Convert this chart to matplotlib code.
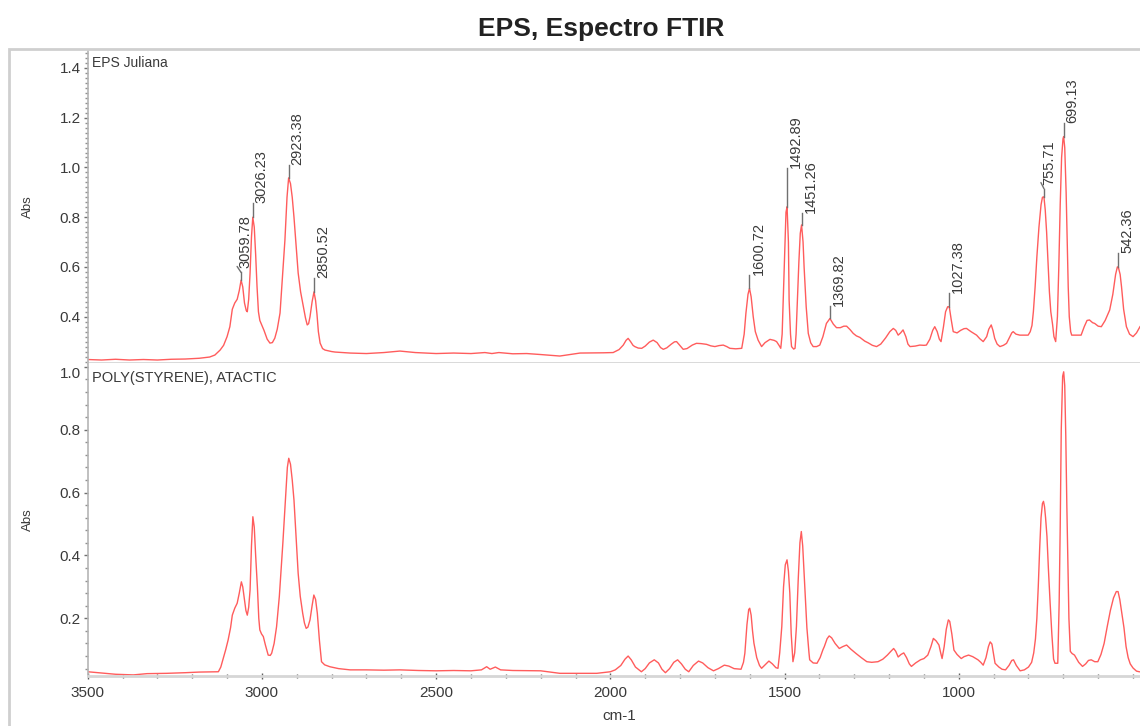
import matplotlib
matplotlib.use('Agg')

import matplotlib.pyplot as plt
from matplotlib.patches import Rectangle
from matplotlib.ticker import MultipleLocator
import matplotlib.transforms as mtransforms

plt.rcParams['font.family'] = ['Liberation Sans', 'DejaVu Sans']

# EPS Juliana sample (top panel): wavenumber (cm-1) and absorbance
top_wn = [3500, 3460, 3420, 3380, 3340, 3300, 3260, 3220, 3180, 3150, 3135, 3120, 3110,
          3100, 3092, 3085, 3078, 3071, 3065, 3059.78, 3055, 3050, 3045, 3042, 3038, 3034,
          3030, 3026.23, 3022, 3018, 3014, 3010, 3006, 3000, 2994, 2985, 2977, 2970, 2963,
          2956, 2948, 2941, 2934, 2928, 2923.38, 2918, 2913, 2908, 2902, 2896, 2889, 2881,
          2875, 2870, 2866, 2862, 2856, 2850.52, 2846, 2842, 2838, 2833, 2826, 2819, 2800,
          2790, 2747, 2700, 2650, 2604, 2560, 2500, 2450, 2400, 2360, 2340, 2320, 2280,
          2240, 2200, 2145, 2087, 2020, 1992, 1975, 1963, 1955, 1949, 1942, 1935, 1930,
          1920, 1910, 1900, 1888, 1877, 1866, 1856, 1848, 1838, 1825, 1816, 1810, 1802,
          1791, 1780, 1765, 1753, 1740, 1724, 1712, 1700, 1688, 1676, 1666, 1657, 1640,
          1623, 1616, 1611, 1605, 1600.72, 1596, 1590, 1584, 1576, 1566, 1556, 1542, 1530,
          1523, 1516, 1511, 1507, 1504, 1499, 1496, 1492.89, 1489, 1487, 1483, 1480, 1474,
          1470, 1467, 1464, 1459, 1455, 1451.26, 1447, 1444, 1438, 1432, 1425, 1418, 1408,
          1399, 1390, 1380, 1369.82, 1360, 1351, 1340, 1330, 1322, 1312, 1303, 1294, 1284,
          1270, 1260, 1248, 1236, 1224, 1210, 1198, 1188, 1181, 1174, 1167, 1160, 1152,
          1146, 1140, 1125, 1112, 1100, 1093, 1083, 1075, 1069, 1062, 1056, 1051, 1044,
          1038, 1032, 1027.38, 1022, 1016, 1005, 995, 985, 978, 965, 957, 949, 940, 930,
          920, 914, 907, 902, 897, 890, 882, 872, 863, 855, 848, 844, 836, 825, 812, 801,
          795, 790, 786, 781, 776, 770, 764, 760, 755.71, 752, 748, 744, 740, 736, 731,
          727, 722, 717, 713, 709, 705, 701, 699.13, 696, 692, 689, 686, 683, 679, 676,
          665, 649, 640, 632, 625, 616, 610, 600, 591, 580, 567, 558, 550, 545, 542.36,
          537, 533, 527, 519, 510, 500, 490, 480]
top_abs = [0.228, 0.226, 0.229, 0.226, 0.228, 0.226, 0.229, 0.230, 0.233, 0.238, 0.246,
           0.266, 0.285, 0.320, 0.360, 0.430, 0.455, 0.470, 0.505, 0.547, 0.520, 0.455,
           0.425, 0.420, 0.470, 0.576, 0.720, 0.800, 0.760, 0.650, 0.520, 0.420, 0.385,
           0.365, 0.345, 0.310, 0.294, 0.296, 0.314, 0.350, 0.415, 0.560, 0.708, 0.880,
           0.958, 0.935, 0.880, 0.800, 0.690, 0.576, 0.500, 0.440, 0.395, 0.367, 0.372,
           0.400, 0.460, 0.500, 0.465, 0.410, 0.340, 0.294, 0.272, 0.266, 0.260, 0.258,
           0.254, 0.252, 0.256, 0.262, 0.256, 0.252, 0.254, 0.252, 0.256, 0.252, 0.256,
           0.251, 0.252, 0.248, 0.242, 0.254, 0.255, 0.256, 0.268, 0.286, 0.305, 0.313,
           0.300, 0.285, 0.280, 0.274, 0.273, 0.282, 0.298, 0.306, 0.296, 0.276, 0.269,
           0.275, 0.290, 0.299, 0.300, 0.287, 0.269, 0.272, 0.286, 0.293, 0.292, 0.289,
           0.283, 0.280, 0.284, 0.286, 0.280, 0.273, 0.271, 0.273, 0.330, 0.414, 0.490,
           0.514, 0.480, 0.400, 0.340, 0.306, 0.280, 0.296, 0.309, 0.305, 0.300, 0.285,
           0.273, 0.330, 0.467, 0.700, 0.820, 0.842, 0.700, 0.467, 0.330, 0.280, 0.270,
           0.273, 0.330, 0.440, 0.620, 0.735, 0.769, 0.700, 0.600, 0.440, 0.333, 0.295,
           0.280, 0.280, 0.286, 0.320, 0.373, 0.393, 0.370, 0.356, 0.356, 0.362, 0.362,
           0.348, 0.333, 0.323, 0.317, 0.302, 0.295, 0.285, 0.280, 0.290, 0.315, 0.340,
           0.353, 0.345, 0.326, 0.335, 0.347, 0.320, 0.290, 0.280, 0.282, 0.286, 0.285,
           0.286, 0.310, 0.345, 0.360, 0.340, 0.310, 0.300, 0.360, 0.420, 0.440, 0.440,
           0.390, 0.340, 0.335, 0.345, 0.352, 0.353, 0.340, 0.333, 0.326, 0.312, 0.300,
           0.320, 0.350, 0.367, 0.345, 0.313, 0.290, 0.280, 0.285, 0.293, 0.315, 0.335,
           0.340, 0.330, 0.326, 0.326, 0.326, 0.340, 0.365, 0.420, 0.520, 0.640, 0.760,
           0.850, 0.880, 0.882, 0.830, 0.740, 0.620, 0.500, 0.420, 0.370, 0.320, 0.300,
           0.400, 0.600, 0.850, 1.040, 1.115, 1.124, 1.080, 0.900, 0.700, 0.520, 0.400,
           0.340, 0.326, 0.326, 0.326, 0.360, 0.385, 0.387, 0.376, 0.373, 0.362, 0.360,
           0.385, 0.427, 0.490, 0.570, 0.600, 0.600, 0.570, 0.520, 0.430, 0.360, 0.330,
           0.320, 0.335, 0.360]

# poly(styrene), atactic reference spectrum (bottom panel)
bot_wn = [3500, 3460, 3420, 3369, 3330, 3273, 3220, 3180, 3125, 3118, 3111, 3104, 3097,
          3090, 3085, 3078, 3071, 3065, 3059, 3055, 3050, 3046, 3042, 3038, 3034, 3030,
          3026, 3022, 3018, 3013, 3009, 3006, 3001, 2996, 2990, 2982, 2976, 2972, 2965,
          2958, 2950, 2940, 2932, 2927, 2923, 2918, 2913, 2908, 2902, 2896, 2890, 2883,
          2878, 2873, 2868, 2862, 2856, 2851, 2846, 2841, 2835, 2829, 2820, 2805, 2780,
          2747, 2700, 2650, 2604, 2550, 2500, 2450, 2400, 2370, 2355, 2345, 2330, 2315,
          2280, 2200, 2145, 2039, 2000, 1986, 1970, 1958, 1949, 1940, 1928, 1911, 1900,
          1888, 1874, 1862, 1852, 1842, 1830, 1818, 1807, 1796, 1785, 1775, 1762, 1747,
          1735, 1720, 1704, 1690, 1673, 1660, 1645, 1625, 1618, 1614, 1608, 1603, 1600,
          1596, 1592, 1588, 1580, 1572, 1566, 1556, 1545, 1535, 1525, 1519, 1514, 1508,
          1503, 1498, 1493, 1489, 1485, 1481, 1476, 1471, 1466, 1461, 1456, 1452, 1448,
          1442, 1436, 1430, 1428, 1418, 1407, 1398, 1390, 1386, 1378, 1372, 1365, 1355,
          1343, 1333, 1322, 1310, 1296, 1280, 1264, 1250, 1232, 1218, 1205, 1195, 1187,
          1181, 1174, 1166, 1158, 1150, 1142, 1136, 1124, 1110, 1100, 1089, 1080, 1073,
          1065, 1057, 1052, 1048, 1042, 1036, 1030, 1026, 1020, 1014, 1005, 993, 985, 972,
          960, 945, 937, 930, 922, 915, 910, 905, 900, 896, 885, 876, 866, 856, 848, 843,
          835, 824, 812, 800, 791, 785, 780, 776, 772, 768, 764, 760, 757, 754, 751, 747,
          743, 738, 733, 728, 724, 716, 712, 709, 706, 702, 699, 696, 693, 690, 687, 684,
          680, 675, 668, 656, 645, 636, 628, 620, 610, 601, 592, 583, 574, 565, 556, 548,
          543, 538, 532, 526, 520, 514, 508, 500, 490, 482]
bot_abs = [0.030, 0.026, 0.022, 0.020, 0.024, 0.025, 0.027, 0.029, 0.030, 0.045, 0.073,
           0.100, 0.131, 0.170, 0.210, 0.232, 0.248, 0.280, 0.316, 0.300, 0.258, 0.225,
           0.210, 0.235, 0.290, 0.430, 0.523, 0.490, 0.400, 0.300, 0.200, 0.163, 0.150,
           0.142, 0.115, 0.083, 0.082, 0.089, 0.120, 0.173, 0.270, 0.438, 0.590, 0.680,
           0.709, 0.690, 0.640, 0.576, 0.460, 0.343, 0.270, 0.216, 0.185, 0.168, 0.172,
           0.195, 0.240, 0.274, 0.260, 0.216, 0.130, 0.062, 0.052, 0.046, 0.040, 0.036,
           0.036, 0.035, 0.036, 0.034, 0.033, 0.034, 0.033, 0.036, 0.046, 0.038, 0.045,
           0.036, 0.034, 0.033, 0.025, 0.025, 0.030, 0.036, 0.050, 0.070, 0.080, 0.068,
           0.045, 0.030, 0.040, 0.058, 0.068, 0.058, 0.038, 0.027, 0.040, 0.060, 0.068,
           0.055, 0.038, 0.030, 0.050, 0.064, 0.058, 0.043, 0.033, 0.040, 0.051, 0.048,
           0.040, 0.038, 0.060, 0.089, 0.180, 0.228, 0.232, 0.210, 0.160, 0.121, 0.075,
           0.050, 0.041, 0.052, 0.064, 0.055, 0.043, 0.041, 0.090, 0.174, 0.300, 0.370,
           0.386, 0.350, 0.280, 0.150, 0.062, 0.090, 0.174, 0.320, 0.440, 0.476, 0.430,
           0.300, 0.170, 0.090, 0.068, 0.058, 0.057, 0.075, 0.100, 0.110, 0.135, 0.144,
           0.138, 0.120, 0.104, 0.110, 0.115, 0.102, 0.089, 0.075, 0.062, 0.060, 0.062,
           0.070, 0.083, 0.095, 0.104, 0.095, 0.077, 0.085, 0.090, 0.075, 0.055, 0.047,
           0.058, 0.068, 0.072, 0.083, 0.110, 0.136, 0.128, 0.115, 0.090, 0.072, 0.110,
           0.165, 0.195, 0.190, 0.150, 0.099, 0.085, 0.072, 0.078, 0.083, 0.078, 0.068,
           0.060, 0.051, 0.075, 0.110, 0.125, 0.118, 0.085, 0.057, 0.045, 0.038, 0.036,
           0.050, 0.066, 0.068, 0.050, 0.033, 0.036, 0.045, 0.060, 0.090, 0.135, 0.200,
           0.300, 0.420, 0.520, 0.565, 0.572, 0.555, 0.520, 0.460, 0.360, 0.250, 0.150,
           0.070, 0.057, 0.057, 0.250, 0.490, 0.800, 0.970, 0.984, 0.940, 0.780, 0.560,
           0.380, 0.200, 0.095, 0.088, 0.083, 0.060, 0.047, 0.055, 0.066, 0.068, 0.062,
           0.062, 0.085, 0.120, 0.174, 0.225, 0.265, 0.285, 0.285, 0.260, 0.215, 0.170,
           0.110, 0.075, 0.055, 0.042, 0.032, 0.030]

# peak picks on the sample: position, peak height, top of leader line, sideways kink (px)
peak_wn = [3059.78, 3026.23, 2923.38, 2850.52, 1600.72, 1492.89, 1451.26, 1369.82,
           1027.38, 755.71, 699.13, 542.36]
peak_y = [0.547, 0.800, 0.958, 0.500, 0.514, 0.842, 0.769, 0.393, 0.440, 0.882, 1.124, 0.600]
lead_top = [0.578, 0.857, 1.010, 0.555, 0.567, 0.998, 0.817, 0.444, 0.495, 0.915, 1.180, 0.656]
lead_kink = [-4, 0, 0, 0, 0, 0, 0, 0, 0, -3, 0, 0]

line_col = '#ff5c5c'
lead_col = '#707070'
txt_col = '#3a3a3a'

fig = plt.figure(figsize=(11.4, 7.26), dpi=100)

# outer frame of the report window (runs off the right and bottom edges)
fig.patches.append(Rectangle((9 / 1140, -0.1), 1.2, 1.1 - 49 / 726,
                             transform=fig.transFigure, fill=False,
                             edgecolor='#cfcfcf', linewidth=2.0, zorder=0))

left = 87.7 / 1140
width = 1 - left
ax1 = fig.add_axes([left, 1 - 363 / 726, width, (363 - 51) / 726])
ax2 = fig.add_axes([left, 1 - 676 / 726, width, (676 - 363) / 726], sharex=ax1)

for ax in (ax1, ax2):
    ax.spines['top'].set_visible(False)
    ax.spines['right'].set_visible(False)
    ax.spines['left'].set_color('#b5b5b5')
    ax.spines['left'].set_linewidth(1.2)
    ax.spines['bottom'].set_color('#d6d6d6')
    ax.spines['bottom'].set_linewidth(2.0)
    ax.tick_params(axis='y', which='major', length=3, width=1, color='#707070',
                   labelsize=11, labelcolor=txt_col, pad=2)
    ax.tick_params(axis='y', which='minor', length=2, width=1, color='#909090')
    ax.set_ylabel('Abs', fontsize=9.5, color=txt_col)
    ax.yaxis.set_label_coords(-54 / 1052, 0.5)

ax1.plot(top_wn, top_abs, color=line_col, lw=1.0)
ax2.plot(bot_wn, bot_abs, color=line_col, lw=1.0)

ax1.set_xlim(3500, 480)
ax1.set_ylim(0.214, 1.468)
ax2.set_ylim(0.0165, 1.012)

ax1.set_yticks([0.4, 0.6, 0.8, 1.0, 1.2, 1.4])
ax1.yaxis.set_minor_locator(MultipleLocator(0.02))
ax2.set_yticks([0.2, 0.4, 0.6, 0.8, 1.0])
ax2.yaxis.set_minor_locator(MultipleLocator(0.04))
# the 1.0 label sits just under the panel divider
ax2.get_yticklabels()[-1].set_verticalalignment('top')

ax1.tick_params(axis='x', which='both', bottom=False, labelbottom=False)
ax2.set_xticks([3500, 3000, 2500, 2000, 1500, 1000])
ax2.xaxis.set_minor_locator(MultipleLocator(100))
ax2.tick_params(axis='x', which='major', direction='inout', length=5, width=1,
                color='#606060', labelsize=11, labelcolor=txt_col, pad=5)
ax2.tick_params(axis='x', which='minor', direction='inout', length=3, width=1,
                color='#606060')
ax2.set_xlabel('cm-1', fontsize=11, color=txt_col)
ax2.xaxis.set_label_coords((619 - 87.7) / 1052.3, -33 / 313)

ax1.text(0.004, 0.985, 'EPS Juliana', transform=ax1.transAxes, fontsize=10,
         color=txt_col, ha='left', va='top')
ax2.text(0.004, 0.975, 'POLY(STYRENE), ATACTIC', transform=ax2.transAxes,
         fontsize=10.5, color=txt_col, ha='left', va='top')

# peak labels with leader lines
for wn, y0, y1, dx in zip(peak_wn, peak_y, lead_top, lead_kink):
    ax1.plot([wn, wn], [y0, y1], color=lead_col, lw=1.0)
    if dx:
        # crowded peaks: leader bends sideways before the label
        ax1.annotate('', xy=(wn, y1), xycoords='data', xytext=(dx, 6),
                     textcoords='offset pixels',
                     arrowprops=dict(arrowstyle='-', color=lead_col, lw=1.0,
                                     shrinkA=0, shrinkB=0))
        tr = mtransforms.offset_copy(ax1.transData, fig=fig, x=dx + 1, y=4, units='dots')
    else:
        tr = mtransforms.offset_copy(ax1.transData, fig=fig, x=2, y=0, units='dots')
    ax1.text(wn, y1, f'{wn:.2f}', transform=tr, rotation=90,
             ha='left', va='bottom', fontsize=10.5, color=txt_col)

fig.text(601 / 1140, 1 - 29 / 726, 'EPS, Espectro FTIR', ha='center', va='center',
         fontsize=19, fontweight='bold', color='#222222')

fig.savefig('out.png', dpi=100)
